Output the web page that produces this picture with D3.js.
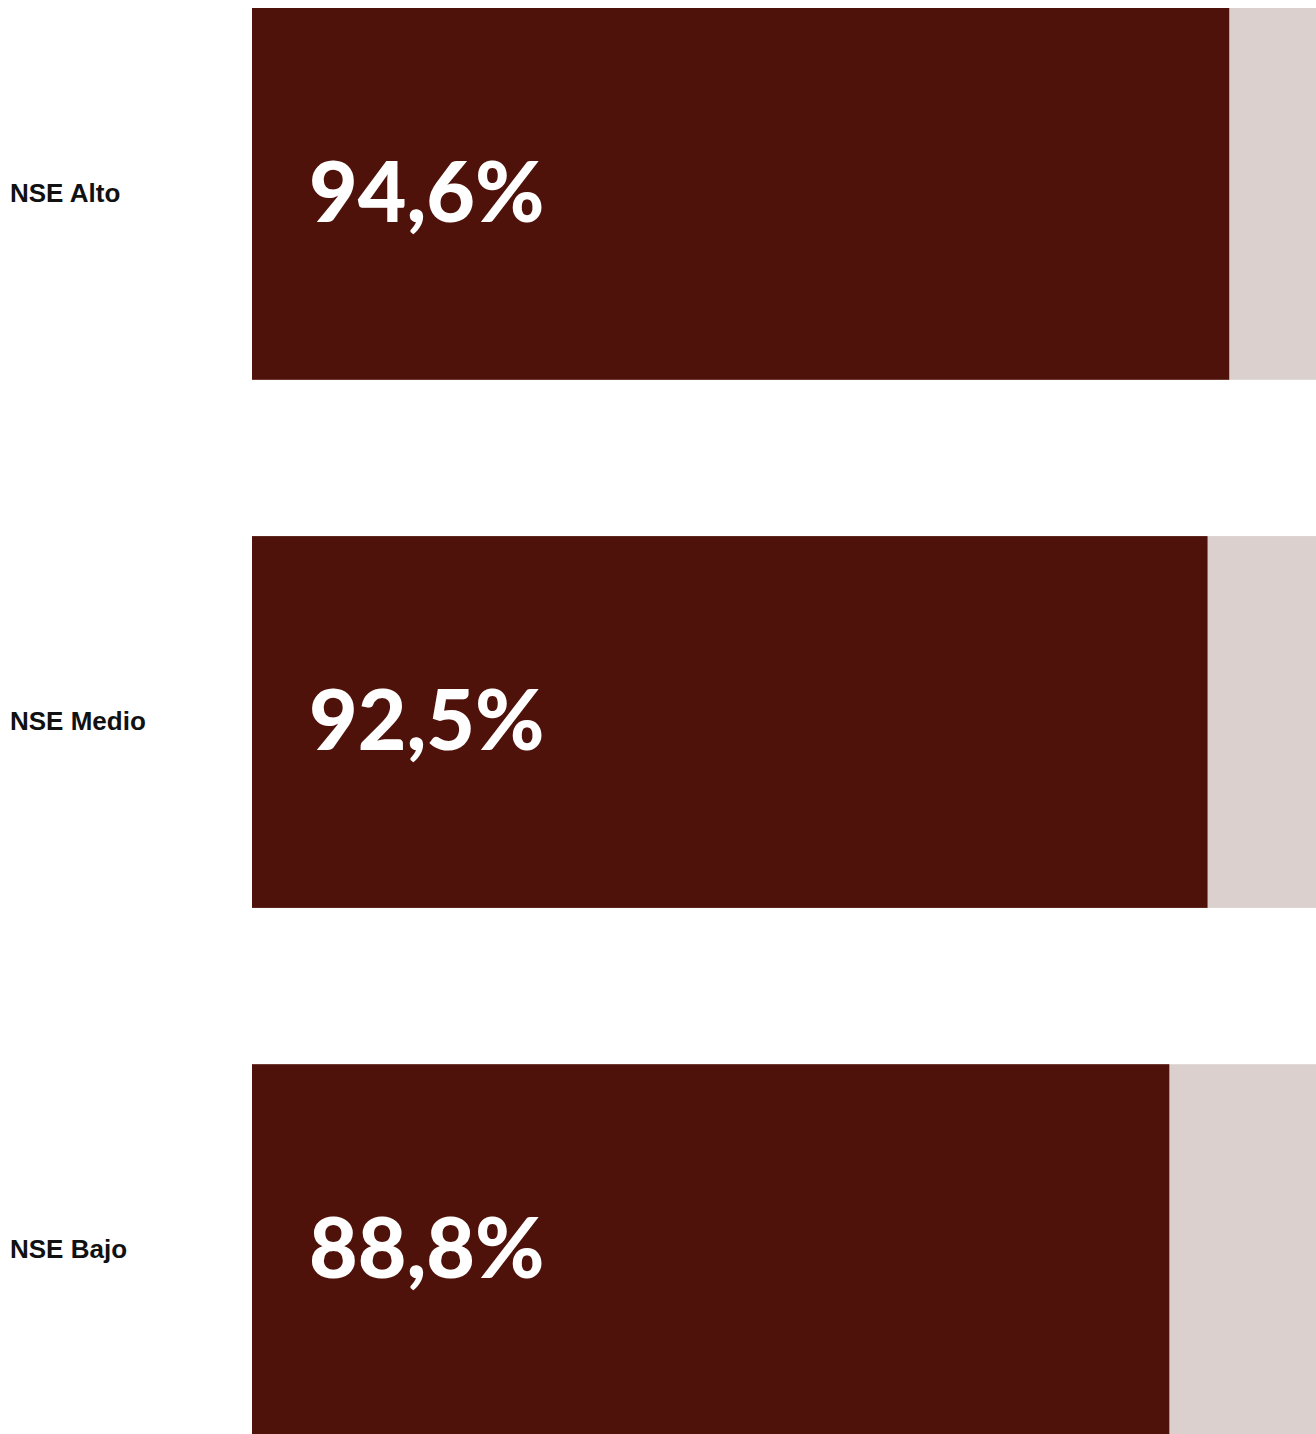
<!DOCTYPE html>
<html lang="es">
<head>
<meta charset="utf-8">
<title>NSE</title>
<script src="https://cdn.jsdelivr.net/npm/d3@7"></script>
<style>
  html, body { margin: 0; padding: 0; background: #ffffff; overflow: hidden; }
  svg { display: block; }
</style>
</head>
<body>
<div id="chart"></div>
<script>
// Share per socioeconomic level (percent)
const categories = ["NSE Alto", "NSE Medio", "NSE Bajo"];
const values = [94.6, 92.5, 88.8];

const width = 1316;
const height = 1434;
const barLeft = 252;

const colors = { bar: "#4f120a", track: "#dbd0ce", label: "#111111", value: "#ffffff" };

const esLocale = d3.formatLocale({ decimal: ",", thousands: ".", grouping: [3], currency: ["", " €"] });
const fmt = v => esLocale.format(".1f")(v) + "%";

const rows = categories.map((c, i) => ({ category: c, value: values[i] }));

const svg = d3.select("#chart").append("svg")
  .attr("width", width)
  .attr("height", height);

// Horizontal value scale; the track runs past 100 to the right edge
const x = d3.scaleLinear().domain([0, 103]).range([barLeft, width]);

const y = d3.scaleBand()
  .domain(categories)
  .range([8, 1436])
  .paddingInner(0.296)
  .paddingOuter(0);

const row = svg.selectAll("g.row")
  .data(rows)
  .join("g")
  .attr("class", "row");

// Background track
row.append("rect")
  .attr("x", x(0))
  .attr("y", d => y(d.category))
  .attr("width", x.range()[1] - x(0))
  .attr("height", y.bandwidth())
  .attr("fill", colors.track);

// Value bar
row.append("rect")
  .attr("x", x(0))
  .attr("y", d => y(d.category))
  .attr("width", d => x(d.value) - x(0))
  .attr("height", y.bandwidth())
  .attr("fill", colors.bar);

// Category labels on the left
row.append("text")
  .attr("x", 10)
  .attr("y", d => y(d.category) + y.bandwidth() / 2 + 8)
  .attr("font-family", "'Liberation Sans', Arial, Helvetica, sans-serif")
  .attr("font-weight", 700)
  .attr("font-size", 26)
  .attr("fill", colors.label)
  .text(d => d.category);

// Value labels inside the bars
row.append("text")
  .attr("x", x(0) + 57)
  .attr("y", d => y(d.category) + y.bandwidth() / 2 + 28)
  .attr("font-family", "Lato, 'Open Sans', sans-serif")
  .attr("font-weight", 900)
  .attr("font-size", 84)
  .attr("fill", colors.value)
  .text(d => fmt(d.value));
</script>
</body>
</html>
